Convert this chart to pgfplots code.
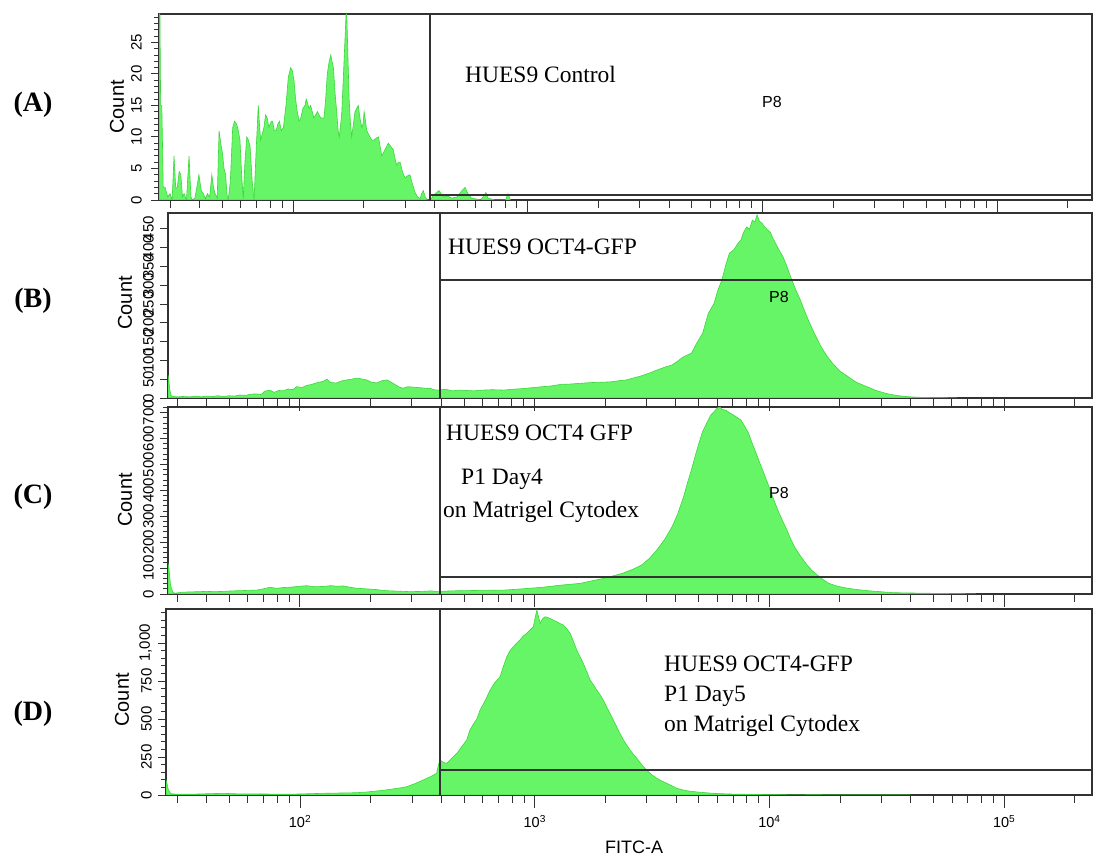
\documentclass[border=0pt]{standalone}
\usepackage{fontspec}
\setmainfont{Liberation Serif}
\setsansfont{Liberation Sans}
\usepackage{pgfplots}
\pgfplotsset{compat=1.18}
\definecolor{axcol}{RGB}{50,50,50}
\definecolor{gfill}{RGB}{102,245,102}
\definecolor{gline}{RGB}{60,215,60}
\pgfplotsset{facs/.style={
  scale only axis, ymin=0,
  axis line style={draw=axcol, line width=1.4pt},
  tick style={axcol, line width=0.9pt},
  tick align=outside, tick pos=left,
  major tick length=13pt, minor tick length=8pt,
  xtick={2,3,4,5}, xticklabels={},
  minor xtick={1.477,1.602,1.699,1.778,1.845,1.903,1.954,2.301,2.477,2.602,2.699,2.778,2.845,2.903,2.954,3.301,3.477,3.602,3.699,3.778,3.845,3.903,3.954,4.301,4.477,4.602,4.699,4.778,4.845,4.903,4.954,5.301},
  xtick style={/pgfplots/major tick length=13pt,/pgfplots/minor tick length=8pt},
  ytick style={/pgfplots/major tick length=8pt,/pgfplots/minor tick length=5pt},
  yticklabel style={rotate=90, anchor=south, font=\sffamily\fontsize{15}{15}\selectfont, inner sep=1pt},
  hist/.style={draw=gline, fill=gfill, line width=0.6pt},
  gate/.style={axcol, line width=1.8pt},
}}
\newcommand{\serifbig}{\fontsize{23.5}{26}\selectfont}
\begin{document}
\begin{tikzpicture}
\useasboundingbox (0,0) rectangle (1093pt,858pt);
% ---------------- (A)
\begin{axis}[facs, at={(159pt,658pt)}, anchor=south west, width=933pt, height=186pt,
  xmin=1.429, xmax=5.404, ymax=29.5,
  ytick={0,5,10,15,20,25}, yticklabels={0,5,10,15,20,25},
  yticklabel style={yshift=3pt},
  minor ytick={1,2,...,29}]
\addplot[hist] table {
x y
1.429 0
1.429 29.5
1.433 29.5
1.436 15
1.441 15
1.447 2
1.455 2
1.466 0.5
1.476 1
1.485 0
1.493 7
1.500 2
1.507 2
1.515 4.5
1.522 4
1.529 0.5
1.536 1
1.546 0
1.557 7
1.565 0.5
1.571 0
1.582 0.3
1.590 2
1.599 4
1.609 1.5
1.618 1
1.627 0.2
1.635 1
1.645 0.5
1.654 4
1.661 2
1.668 1
1.677 0.3
1.685 11
1.692 9
1.699 7.5
1.706 5
1.713 4
1.718 1
1.724 0
1.733 3
1.743 11.5
1.751 12.5
1.760 12
1.767 11
1.774 9.5
1.781 4
1.788 0.2
1.795 6
1.803 10
1.810 9.5
1.817 8.5
1.826 3
1.834 0
1.843 8
1.852 15
1.857 12
1.862 9.5
1.869 10.5
1.876 11.5
1.883 13.5
1.890 13
1.897 11.5
1.902 12
1.908 12.5
1.913 12.5
1.920 11
1.928 11
1.935 12
1.942 12.5
1.950 11
1.959 11.5
1.970 15
1.980 19.5
1.990 21
1.997 20.5
2.004 19
2.011 16
2.018 14
2.026 12.5
2.033 13
2.042 14.5
2.051 15
2.056 16
2.061 15.5
2.068 14.5
2.075 15
2.082 14
2.089 13
2.096 13.5
2.104 14
2.111 13.5
2.118 13
2.125 13
2.132 13
2.139 16
2.146 20
2.154 22
2.161 23
2.166 22
2.172 21
2.179 17
2.186 14
2.192 11
2.197 10
2.203 12
2.208 14
2.215 20
2.222 26
2.226 29.5
2.229 29.5
2.233 24
2.239 16
2.245 12
2.250 10
2.257 12
2.264 14
2.271 14.5
2.278 15
2.285 13
2.293 11.5
2.298 12
2.303 14
2.309 12.5
2.314 11
2.321 10.5
2.328 10
2.336 9.5
2.345 9.5
2.354 9.8
2.364 10
2.371 8.5
2.378 7
2.385 7.5
2.392 8
2.399 8.5
2.406 9
2.416 8.5
2.427 8
2.435 6.5
2.442 5.5
2.449 6
2.456 6
2.466 4.5
2.477 3.5
2.487 3.8
2.498 4
2.509 2.5
2.520 1.2
2.530 0.5
2.541 0.2
2.548 1
2.555 1.5
2.563 0.5
2.572 0
2.584 0
2.600 0.8
2.622 1.5
2.640 0.5
2.660 0.6
2.677 0.3
2.700 0.5
2.720 1.5
2.733 2
2.745 1
2.760 0.3
2.775 0.2
2.800 0
2.815 0.8
2.822 1.2
2.830 0.3
2.861 0
2.905 0
2.916 1
2.926 0
} \closedcycle;
\addplot[gate] coordinates {(2.584,0) (2.584,29.5)};
\addplot[gate] coordinates {(2.584,0.8) (5.404,0.8)};
\end{axis}
% ---------------- (B)
\begin{axis}[facs, at={(168pt,460pt)}, anchor=south west, width=924pt, height=185pt,
  xmin=1.438, xmax=5.375, ymax=492,
  ytick={0,50,...,450}, yticklabels={0,50,100,150,200,250,300,350,400,450}]
\addplot[hist] table {
x y
1.438 0
1.438 61
1.442 45
1.446 20
1.452 6
1.459 4
1.480 3
1.500 4
1.531 3
1.560 5
1.580 3
1.602 5
1.630 4
1.650 6
1.673 4
1.700 6
1.720 5
1.744 8
1.770 7
1.790 10
1.815 11
1.835 9
1.850 18
1.872 21
1.890 15
1.910 20
1.929 19
1.950 24
1.970 22
1.986 30
2.010 28
2.030 34
2.043 35
2.060 38
2.080 42
2.099 44
2.115 50
2.130 41
2.156 40
2.175 45
2.199 48
2.220 50
2.242 53
2.260 51
2.284 48
2.305 42
2.327 40
2.350 46
2.370 48
2.383 44
2.405 36
2.420 30
2.440 26
2.460 30
2.480 29
2.497 28
2.520 27
2.540 25
2.554 26
2.570 22
2.589 21
2.620 23
2.650 19
2.680 21
2.707 20
2.740 19
2.780 21
2.820 22
2.870 21
2.900 23
2.950 25
3.000 28
3.033 30
3.070 32
3.110 36
3.150 37
3.195 39
3.240 41
3.290 42
3.326 43
3.360 46
3.391 48
3.420 53
3.450 58
3.488 66
3.520 74
3.555 82
3.586 88
3.610 98
3.630 108
3.650 114
3.668 119
3.690 145
3.716 172
3.740 225
3.765 252
3.780 285
3.798 314
3.815 355
3.830 385
3.850 395
3.865 410
3.879 420
3.890 440
3.904 455
3.915 448
3.928 473
3.938 468
3.948 487
3.958 470
3.969 465
3.980 455
3.993 447
4.005 440
4.015 425
4.026 412
4.040 395
4.058 376
4.075 350
4.091 322
4.110 292
4.132 261
4.150 232
4.172 199
4.195 168
4.221 136
4.245 112
4.270 92
4.300 72
4.335 57
4.370 42
4.416 30
4.455 20
4.498 12
4.540 7
4.579 4
4.630 2
4.693 1
4.760 0.5
4.800 0
} \closedcycle;
\addplot[gate] coordinates {(2.597,0) (2.597,492)};
\addplot[gate] coordinates {(2.597,314) (5.375,314)};
\end{axis}
% ---------------- (C)
\begin{axis}[facs, at={(168pt,264pt)}, anchor=south west, width=924pt, height=187pt,
  xmin=1.438, xmax=5.375, ymax=722,
  ytick={0,100,...,700}, yticklabels={0,100,200,300,400,500,600,700},
  minor ytick={0,20,...,720}]
\addplot[hist] table {
x y
1.438 0
1.438 118
1.442 100
1.448 40
1.453 20
1.460 6
1.467 3
1.500 7
1.531 8
1.570 9
1.600 10
1.640 9
1.673 10
1.710 12
1.750 13
1.780 14
1.815 15
1.840 19
1.872 26
1.900 22
1.930 25
1.957 26
1.990 29
2.028 32
2.060 28
2.099 29
2.130 32
2.160 30
2.185 31
2.215 26
2.242 22
2.280 20
2.327 17
2.350 14
2.383 12
2.420 11
2.469 9
2.520 10
2.560 12
2.585 9
2.640 12
2.707 13
2.780 14
2.870 15
2.950 20
3.033 26
3.110 34
3.195 41
3.250 52
3.293 60
3.335 70
3.375 80
3.420 96
3.456 112
3.490 138
3.521 170
3.555 212
3.586 260
3.610 310
3.635 376
3.650 425
3.668 479
3.685 535
3.700 582
3.715 625
3.733 659
3.750 690
3.765 704
3.778 718
3.790 721
3.800 712
3.814 710
3.830 700
3.847 691
3.862 682
3.879 672
3.895 648
3.912 620
3.928 580
3.944 543
3.960 505
3.977 466
3.993 428
4.009 389
4.025 350
4.042 312
4.058 280
4.075 247
4.090 215
4.107 183
4.130 150
4.156 118
4.180 92
4.205 73
4.230 55
4.254 41
4.290 30
4.335 22
4.375 17
4.416 13
4.470 9
4.530 5
4.600 4
4.661 3
4.740 2
4.820 1
4.880 0
} \closedcycle;
\addplot[gate] coordinates {(2.597,0) (2.597,722)};
\addplot[gate] coordinates {(2.597,66) (5.375,66)};
\end{axis}
% ---------------- (D)
\begin{axis}[facs, at={(166pt,63pt)}, anchor=south west, width=926pt, height=186pt,
  xmin=1.429, xmax=5.374, ymax=1224,
  ytick={0,250,500,750,1000}, yticklabels={0,250,500,750,{1,000}},
  minor ytick={0,50,...,1200},
  xticklabels={10\textsuperscript{2},10\textsuperscript{3},10\textsuperscript{4},10\textsuperscript{5}},
  xticklabel style={font=\sffamily\fontsize{14.5}{14.5}\selectfont, yshift=-4pt}]
\addplot[hist] table {
x y
1.429 0
1.429 99
1.434 70
1.439 33
1.446 15
1.453 7
1.490 5
1.531 5
1.600 8
1.673 11
1.740 7
1.815 7
1.880 6
1.957 5
2.030 8
2.099 11
2.170 13
2.242 15
2.280 19
2.312 24
2.350 30
2.383 37
2.420 45
2.455 55
2.490 75
2.525 99
2.555 120
2.582 143
2.590 200
2.597 230
2.610 215
2.625 208
2.645 240
2.668 274
2.690 320
2.710 362
2.724 428
2.740 470
2.753 500
2.767 559
2.790 625
2.810 691
2.830 740
2.852 778
2.865 840
2.881 910
2.895 950
2.909 976
2.923 1000
2.937 1020
2.950 1045
2.966 1064
2.980 1085
2.994 1107
3.002 1170
3.009 1217
3.015 1180
3.023 1129
3.033 1160
3.044 1173
3.055 1168
3.065 1162
3.080 1150
3.094 1140
3.108 1128
3.122 1118
3.136 1095
3.151 1064
3.165 1010
3.179 954
3.193 910
3.207 866
3.222 810
3.236 757
3.250 725
3.264 691
3.278 660
3.292 625
3.306 580
3.321 537
3.335 492
3.349 449
3.363 405
3.378 362
3.392 328
3.406 296
3.420 268
3.435 241
3.449 213
3.463 186
3.477 163
3.491 143
3.505 126
3.520 110
3.540 93
3.562 77
3.585 60
3.605 44
3.627 35
3.648 28
3.690 20
3.727 15
3.770 10
3.818 7
3.870 5
3.927 4
4.000 2
4.100 1
4.200 1.5
4.300 0.5
4.400 1
4.500 0.3
4.600 0
} \closedcycle;
\addplot[gate] coordinates {(2.596,0) (2.596,1224)};
\addplot[gate] coordinates {(2.596,164) (5.374,164)};
\end{axis}
% ---------------- texts
\begin{scope}[every node/.style={inner sep=0pt}]
\node[font=\bfseries\fontsize{28}{30}\selectfont] at (33pt,753pt) {(A)};
\node[font=\bfseries\fontsize{28}{30}\selectfont] at (33pt,557pt) {(B)};
\node[font=\bfseries\fontsize{28}{30}\selectfont] at (33pt,361pt) {(C)};
\node[font=\bfseries\fontsize{28}{30}\selectfont] at (33pt,144pt) {(D)};
\node[rotate=90, font=\sffamily\fontsize{20}{20}\selectfont] at (117pt,751pt) {Count};
\node[rotate=90, font=\sffamily\fontsize{20}{20}\selectfont] at (125pt,555pt) {Count};
\node[rotate=90, font=\sffamily\fontsize{20}{20}\selectfont] at (125pt,358pt) {Count};
\node[rotate=90, font=\sffamily\fontsize{20}{20}\selectfont] at (122pt,158pt) {Count};
\node[anchor=base west, font=\serifbig] at (465pt,775pt) {HUES9 Control};
\node[anchor=base west, font=\serifbig] at (448pt,603pt) {HUES9 OCT4-GFP};
\node[anchor=base west, font=\serifbig] at (446pt,417pt) {HUES9 OCT4 GFP};
\node[anchor=base west, font=\serifbig] at (461pt,373pt) {P1 Day4};
\node[anchor=base west, font=\serifbig] at (443pt,340pt) {on Matrigel Cytodex};
\node[anchor=base west, font=\serifbig] at (664pt,186pt) {HUES9 OCT4-GFP};
\node[anchor=base west, font=\serifbig] at (664pt,156pt) {P1 Day5};
\node[anchor=base west, font=\serifbig] at (664pt,126pt) {on Matrigel Cytodex};
\node[font=\sffamily\fontsize{16}{16}\selectfont] at (772pt,756pt) {P8};
\node[font=\sffamily\fontsize{16}{16}\selectfont] at (779pt,561pt) {P8};
\node[font=\sffamily\fontsize{16}{16}\selectfont] at (779pt,365pt) {P8};
\node[font=\sffamily\fontsize{18}{18}\selectfont] at (634pt,11pt) {FITC-A};
\end{scope}
\end{tikzpicture}
\end{document}
